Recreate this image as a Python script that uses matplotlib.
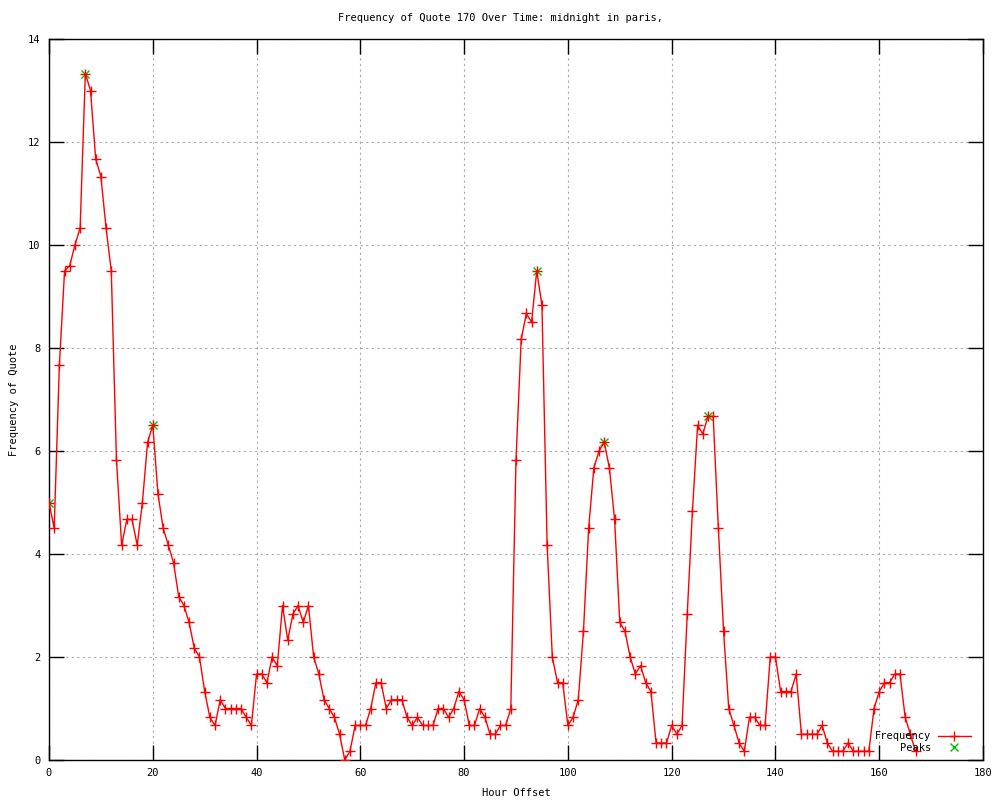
import matplotlib
matplotlib.use("Agg")
import matplotlib.pyplot as plt

hours = list(range(168))
frequency = [
    5.0, 4.5, 7.67, 9.5, 9.6, 10.0, 10.33, 13.33, 13.0, 11.67,
    11.33, 10.33, 9.5, 5.83, 4.17, 4.67, 4.67, 4.17, 5.0, 6.17,
    6.5, 5.17, 4.5, 4.17, 3.83, 3.17, 3.0, 2.67, 2.17, 2.0,
    1.33, 0.83, 0.67, 1.17, 1.0, 1.0, 1.0, 1.0, 0.83, 0.67,
    1.67, 1.67, 1.5, 2.0, 1.83, 3.0, 2.33, 2.83, 3.0, 2.67,
    3.0, 2.0, 1.67, 1.17, 1.0, 0.83, 0.5, 0.0, 0.17, 0.67,
    0.67, 0.67, 1.0, 1.5, 1.5, 1.0, 1.17, 1.17, 1.17, 0.83,
    0.67, 0.83, 0.67, 0.67, 0.67, 1.0, 1.0, 0.83, 1.0, 1.33,
    1.17, 0.67, 0.67, 1.0, 0.83, 0.5, 0.5, 0.67, 0.67, 1.0,
    5.83, 8.17, 8.67, 8.5, 9.5, 8.83, 4.17, 2.0, 1.5, 1.5,
    0.67, 0.83, 1.17, 2.5, 4.5, 5.67, 6.0, 6.17, 5.67, 4.67,
    2.67, 2.5, 2.0, 1.67, 1.83, 1.5, 1.33, 0.33, 0.33, 0.33,
    0.67, 0.5, 0.67, 2.83, 4.83, 6.5, 6.33, 6.67, 6.67, 4.5,
    2.5, 1.0, 0.67, 0.33, 0.17, 0.83, 0.83, 0.67, 0.67, 2.0,
    2.0, 1.33, 1.33, 1.33, 1.67, 0.5, 0.5, 0.5, 0.5, 0.67,
    0.33, 0.17, 0.17, 0.17, 0.33, 0.17, 0.17, 0.17, 0.17, 1.0,
    1.33, 1.5, 1.5, 1.67, 1.67, 0.83, 0.5, 0.17,
]
peak_hours = [0, 7, 20, 94, 107, 127]
peak_values = [5.0, 13.33, 6.5, 9.5, 6.17, 6.67]

x_ticks = list(range(0, 181, 20))
y_ticks = list(range(0, 15, 2))

title = "Frequency of Quote 170 Over Time: midnight in paris,"
xlabel = "Hour Offset"
ylabel = "Frequency of Quote"

plt.rcParams['font.family'] = ['DejaVu Sans Mono']
plt.rcParams['font.size'] = 7.5

fig = plt.figure(figsize=(10, 8), dpi=100)
ax = fig.add_axes([0.049, 0.05, 0.934, 0.90125])

ax.plot(hours, frequency, color='#ff0000', linewidth=1.0, zorder=3,
        marker='+', markersize=7, markeredgewidth=1.0, label='Frequency')
ax.plot(peak_hours, peak_values, linestyle='none', color='#00c000', zorder=2.5,
        marker='x', markersize=6, markeredgewidth=1.0, label='Peaks')

ax.set_xlim(0, 180)
ax.set_ylim(0, 14)
ax.set_xticks(x_ticks)
ax.set_yticks(y_ticks)
ax.tick_params(direction='in', length=11, width=1, top=True, right=True,
               labelsize=7.5, pad=6, color='black')
ax.grid(True, color='#a8a8a8', linestyle=(0, (2, 3)), linewidth=0.8)
ax.set_axisbelow(True)
for s in ax.spines.values():
    s.set_linewidth(1.0)

fig.text(0.5, 0.978, title, ha='center', va='center', fontsize=7.5)
fig.text(0.516, 0.009, xlabel, ha='center', va='center', fontsize=7.5)
fig.text(0.014, 0.5, ylabel, ha='center', va='center', rotation=90, fontsize=7.5)

leg = ax.legend(loc='lower right', frameon=False, markerfirst=False,
                fontsize=7.5, handlelength=3.2, handletextpad=0.6,
                labelspacing=0.15, borderaxespad=0.3,
                bbox_to_anchor=(0.995, 0.0))
for t in leg.get_texts():
    t.set_ha('right')

fig.savefig('out.png', dpi=100)
